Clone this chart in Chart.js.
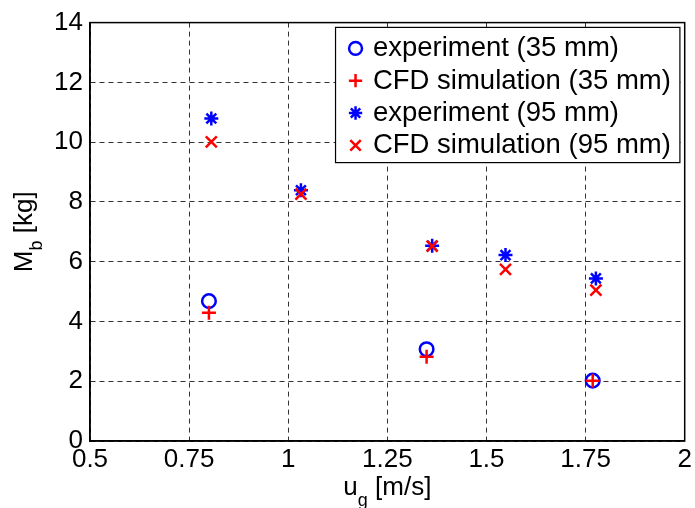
<!DOCTYPE html>
<html>
<head>
<meta charset="utf-8">
<script src="https://cdn.jsdelivr.net/npm/chart.js@4.4.0/dist/chart.umd.min.js"></script>
<style>
  html, body { margin: 0; padding: 0; background: #fff; }
  canvas { display: block; }
</style>
</head>
<body>
<canvas id="massChart" width="695" height="508"></canvas>
<script>
// axis ticks
const xTicks = [0.5, 0.75, 1, 1.25, 1.5, 1.75, 2];
const xTickLabels = ['0.5', '0.75', '1', '1.25', '1.5', '1.75', '2'];
const yTicks = [0, 2, 4, 6, 8, 10, 12, 14];
const yTickLabels = ['0', '2', '4', '6', '8', '10', '12', '14'];

// series (gas velocity u_g in m/s, bed mass M_b in kg)
const seriesLabels = ['experiment (35 mm)', 'CFD simulation (35 mm)', 'experiment (95 mm)', 'CFD simulation (95 mm)'];
const ug35 = [0.800, 1.349, 1.768];
const exp35 = [4.68, 3.07, 2.02];
const cfd35 = [4.29, 2.82, 2.02];
const ug95 = [0.806, 1.032, 1.363, 1.548, 1.776];
const exp95 = [10.79, 8.39, 6.53, 6.22, 5.44];
const cfd95 = [10.01, 8.26, 6.52, 5.74, 5.05];

const FONT = 'Liberation Sans, Arial, Helvetica, sans-serif';
const BLUE = '#0000ff';
const RED = '#ff0000';

function pts(xs, ys) {
  return xs.map((x, i) => ({ x: x, y: ys[i] }));
}

function drawMarker(ctx, style, x, y, r) {
  ctx.beginPath();
  if (style === 'circle') {
    ctx.arc(x, y, r, 0, Math.PI * 2);
  }
  if (style === 'cross' || style === 'star') {
    ctx.moveTo(x - r, y); ctx.lineTo(x + r, y);
    ctx.moveTo(x, y - r); ctx.lineTo(x, y + r);
  }
  if (style === 'crossRot' || style === 'star') {
    const d = r * Math.SQRT1_2;
    ctx.moveTo(x - d, y - d); ctx.lineTo(x + d, y + d);
    ctx.moveTo(x - d, y + d); ctx.lineTo(x + d, y - d);
  }
  ctx.stroke();
}

// box frame, legend and axis titles with subscripts
const decorations = {
  id: 'decorations',
  afterDatasetsDraw(chart) {
    const { ctx, chartArea: a } = chart;
    ctx.save();
    ctx.strokeStyle = '#000';
    ctx.lineWidth = 1.5;
    ctx.strokeRect(a.left, a.top, a.right - a.left, a.bottom - a.top);
    ctx.restore();
  },
  afterDraw(chart) {
    const { ctx, chartArea: a } = chart;
    const sets = chart.data.datasets;
    ctx.save();

    // legend
    ctx.font = '27.5px ' + FONT;
    let maxW = 0;
    sets.forEach(ds => { maxW = Math.max(maxW, ctx.measureText(ds.label).width); });
    const rowStep = 32.3;
    const boxW = 37.4 + maxW + 9;
    const boxH = sets.length * rowStep + 6;
    const bx = a.right - 4.8 - boxW;
    const by = a.top + 4.8;
    ctx.fillStyle = '#fff';
    ctx.fillRect(bx, by, boxW, boxH);
    ctx.strokeStyle = '#000';
    ctx.lineWidth = 1.2;
    ctx.strokeRect(bx, by, boxW, boxH);
    sets.forEach((ds, i) => {
      const cy = by + 21 + i * rowStep;
      ctx.strokeStyle = ds.borderColor;
      ctx.lineWidth = ds.pointBorderWidth;
      drawMarker(ctx, ds.pointStyle, bx + 20, cy, ds.pointRadius * 0.95);
      ctx.fillStyle = '#000';
      ctx.textAlign = 'left';
      ctx.textBaseline = 'alphabetic';
      ctx.fillText(ds.label, bx + 37.4, cy + 8);
    });

    // x title: u_g [m/s]
    const big = '26px ' + FONT, small = '18px ' + FONT;
    ctx.fillStyle = '#000';
    ctx.textAlign = 'left';
    ctx.textBaseline = 'alphabetic';
    ctx.font = big;
    let w1 = ctx.measureText('u').width, w3 = ctx.measureText(' [m/s]').width;
    ctx.font = small;
    let w2 = ctx.measureText('g').width;
    let sx = (a.left + a.right) / 2 - (w1 + w2 + w3) / 2;
    const xb = 495;
    ctx.font = big; ctx.fillText('u', sx, xb);
    ctx.font = small; ctx.fillText('g', sx + w1, xb + 11);
    ctx.font = big; ctx.fillText(' [m/s]', sx + w1 + w2, xb);

    // y title: M_b [kg]
    ctx.translate(32, (a.top + a.bottom) / 2);
    ctx.rotate(-Math.PI / 2);
    ctx.font = big;
    w1 = ctx.measureText('M').width; w3 = ctx.measureText(' [kg]').width;
    ctx.font = small;
    w2 = ctx.measureText('b').width;
    sx = -(w1 + w2 + w3) / 2;
    ctx.font = big; ctx.fillText('M', sx, 0);
    ctx.font = small; ctx.fillText('b', sx + w1, 10);
    ctx.font = big; ctx.fillText(' [kg]', sx + w1 + w2, 0);
    ctx.restore();
  }
};

const gridStyle = { color: 'rgba(0,0,0,0.8)', lineWidth: 1, drawTicks: false };
const borderStyle = { display: true, color: '#000', width: 1.5, dash: [5, 4] };

const ctx = document.getElementById('massChart').getContext('2d');
const massChart = new Chart(ctx, {
  type: 'scatter',
  data: {
    datasets: [{
      label: seriesLabels[0],
      data: pts(ug35, exp35),
      pointStyle: 'circle',
      pointRadius: 6.8,
      pointBorderWidth: 2.5,
      borderColor: BLUE,
      backgroundColor: 'rgba(0,0,0,0)',
      order: 4
    }, {
      label: seriesLabels[1],
      data: pts(ug35, cfd35),
      pointStyle: 'cross',
      pointRadius: 7,
      pointBorderWidth: 2.5,
      borderColor: RED,
      backgroundColor: RED,
      order: 3
    }, {
      label: seriesLabels[2],
      data: pts(ug95, exp95),
      pointStyle: 'star',
      pointRadius: 7,
      pointBorderWidth: 2.5,
      borderColor: BLUE,
      backgroundColor: BLUE,
      order: 2
    }, {
      label: seriesLabels[3],
      data: pts(ug95, cfd95),
      pointStyle: 'crossRot',
      pointRadius: 7.8,
      pointBorderWidth: 2.5,
      borderColor: RED,
      backgroundColor: RED,
      order: 1
    }]
  },
  options: {
    responsive: false,
    animation: false,
    devicePixelRatio: 1,
    layout: { padding: { top: 22.5, right: 8.5, left: 0, bottom: 0 } },
    plugins: {
      legend: { display: false },
      tooltip: { enabled: false }
    },
    scales: {
      x: {
        type: 'linear',
        min: 0.5,
        max: 2,
        afterBuildTicks: scale => { scale.ticks = xTicks.map(v => ({ value: v })); },
        afterFit: scale => { scale.height = 67; },
        ticks: {
          callback: (v, i) => xTickLabels[i],
          font: { family: FONT, size: 26 },
          color: '#000',
          padding: 3,
          maxRotation: 0,
          autoSkip: false
        },
        grid: gridStyle,
        border: borderStyle
      },
      y: {
        type: 'linear',
        min: 0,
        max: 14,
        afterBuildTicks: scale => { scale.ticks = yTicks.map(v => ({ value: v })); },
        afterFit: scale => { scale.width = 90; },
        ticks: {
          callback: (v, i) => yTickLabels[i],
          font: { family: FONT, size: 26 },
          color: '#000',
          padding: 7,
          autoSkip: false
        },
        grid: gridStyle,
        border: borderStyle
      }
    }
  },
  plugins: [decorations]
});
</script>
</body>
</html>
